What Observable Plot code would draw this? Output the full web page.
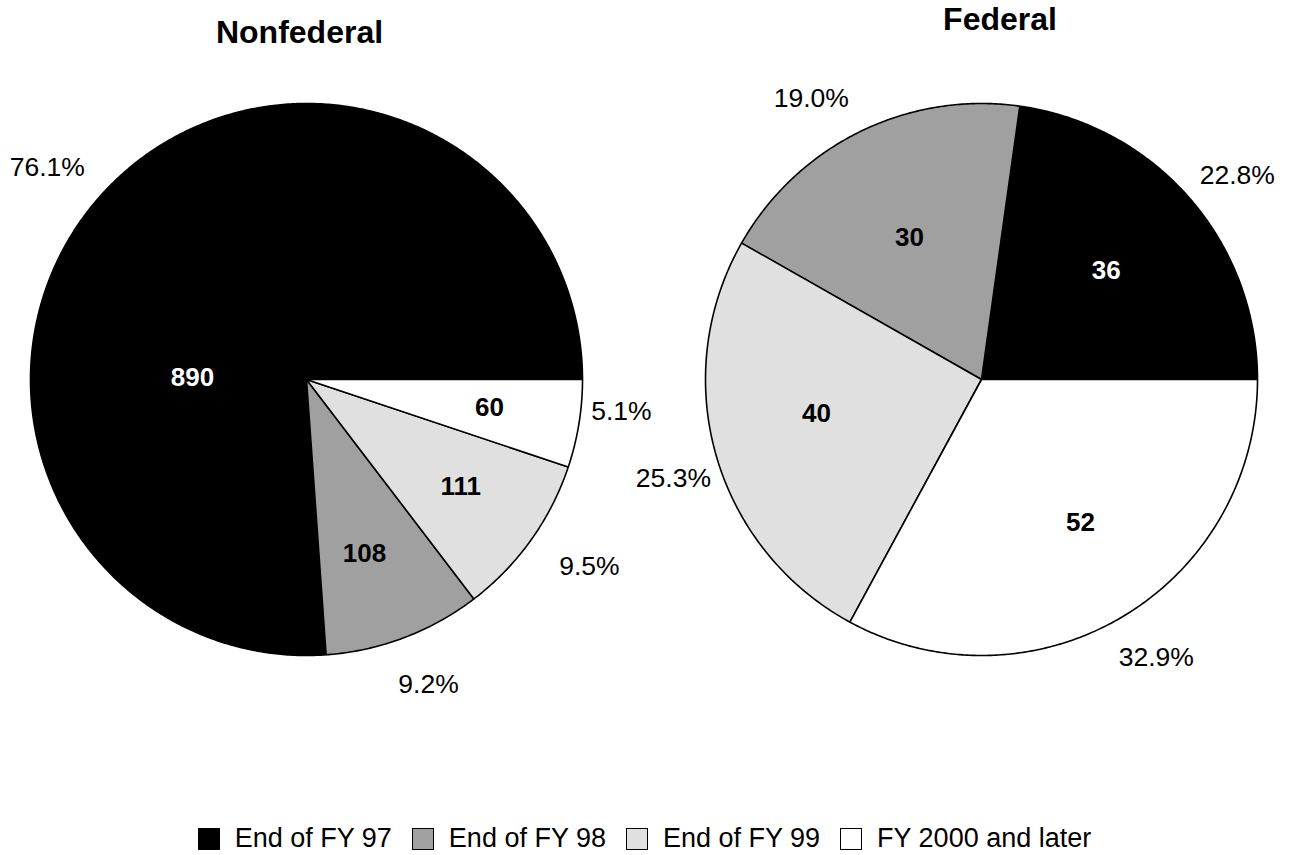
<!DOCTYPE html>
<html><head><meta charset="utf-8">
<script src="https://cdn.jsdelivr.net/npm/d3@7"></script>
<script src="https://cdn.jsdelivr.net/npm/@observablehq/plot@0.6"></script>
<style>
html,body{margin:0;padding:0;background:#fff;overflow:hidden}
#chart{width:1289px}
.legend{display:flex;justify-content:center;align-items:center;height:33px;font-family:"Liberation Sans",Arial,sans-serif;font-size:27px;color:#000;white-space:nowrap}
.legend .item{display:flex;align-items:center;margin:0 10px}
.legend .sw{width:20px;height:20px;border:1.5px solid #000;margin-right:15px;box-sizing:content-box;flex:none}
</style></head><body><div id="chart"></div>
<script>
// ---- data ----
const categories = ["End of FY 97", "End of FY 98", "End of FY 99", "FY 2000 and later"];
const pieNames = ["Nonfederal", "Federal"];
const nonfederalValues = [890, 108, 111, 60];
const federalValues = [36, 30, 40, 52];
const colors = ["#000000", "#a0a0a0", "#e0e0e0", "#ffffff"];

// ---- layout (pixels / polar placement tweaks) ----
const W = 1289, H = 822, R = 276;
const centersPx = [306, 981];
const centerYPx = 379;
const titlePx = [{x: 299, y: 31.8}, {x: 999.5, y: 18.8}];
// value label placement: [angle offset from slice middle (deg), radius as fraction of R]
const valueLabelPlace = [
  [[42, 0.413], [-2.3, 0.665], [0.8, 0.68], [0.5, 0.671]],
  [[0.1, 0.60], [0.7, 0.577], [-4.4, 0.61], [3.9, 0.63]]
];
// percent label placement: [angle offset (deg), radius fraction]
const pctLabelPlace = [
  [[3.7, 1.213], [1.1, 1.19], [2.1, 1.229], [3.4, 1.147]],
  [[-2.4, 1.186], [5.0, 1.19], [1.8, 1.172], [1.4, 1.19]]
];

const seriesByPie = [nonfederalValues, federalValues];
const cxUnit = centersPx.map(c => (c - centersPx[0]) / R);
const toUnitY = py => (centerYPx - py) / R;
const deg = Math.PI / 180;

const slices = [];
const polyPts = [];
seriesByPie.forEach((vals, p) => {
  const total = d3.sum(vals);
  let cum = 0;
  vals.forEach((v, i) => {
    const a0 = cum / total * 2 * Math.PI;
    cum += v;
    const a1 = cum / total * 2 * Math.PI;
    const id = pieNames[p] + "|" + categories[i];
    const mid = (a0 + a1) / 2;
    slices.push({pie: pieNames[p], p, category: categories[i], value: v, frac: v / total, a0, a1, mid, id, i});
    const n = Math.max(2, Math.ceil((a1 - a0) / (Math.PI / 360)));
    polyPts.push({id, category: categories[i], x: cxUnit[p], y: 0});
    for (let k = 0; k <= n; k++) {
      const a = a0 + (a1 - a0) * k / n;
      polyPts.push({id, category: categories[i], x: cxUnit[p] + Math.cos(a), y: Math.sin(a)});
    }
    polyPts.push({id, category: categories[i], x: cxUnit[p], y: 0});
  });
});

const valueLabels = slices.map(s => {
  const [da, r] = valueLabelPlace[s.p][s.i];
  const a = s.mid + da * deg;
  return {text: String(s.value), x: cxUnit[s.p] + r * Math.cos(a), y: r * Math.sin(a), fill: s.i === 0 ? "#fff" : "#000"};
});
const pctFmt = d3.format(".1%");
const pctLabels = slices.map(s => {
  const [da, r] = pctLabelPlace[s.p][s.i];
  const a = s.mid + da * deg;
  return {text: pctFmt(s.frac), x: cxUnit[s.p] + r * Math.cos(a), y: r * Math.sin(a)};
});
const titles = pieNames.map((name, p) => ({text: name, x: (titlePx[p].x - centersPx[0]) / R, y: toUnitY(titlePx[p].y)}));

const font = "'Liberation Sans', Arial, sans-serif";
const chart = Plot.plot({
  width: W, height: H, margin: 0,
  x: {domain: [-centersPx[0] / R, (W - centersPx[0]) / R], range: [0, W], axis: null},
  y: {domain: [toUnitY(H), toUnitY(0)], range: [H, 0], axis: null},
  color: {domain: categories, range: colors},
  style: {fontFamily: font, background: "#fff", color: "#000"},
  marks: [
    Plot.line(polyPts, {x: "x", y: "y", z: "id", fill: "category", stroke: "#000", strokeWidth: 1.6, curve: "linear", strokeLinejoin: "round"}),
    Plot.text(valueLabels, {x: "x", y: "y", text: "text", fill: d => d.fill, fontSize: 26, fontWeight: "bold", fontFamily: font}),
    Plot.text(pctLabels, {x: "x", y: "y", text: "text", fill: "#000", fontSize: 26.5, fontFamily: font}),
    Plot.text(titles, {x: "x", y: "y", text: "text", fill: "#000", fontSize: 32, fontWeight: "bold", fontFamily: font})
  ]
});
document.getElementById("chart").appendChild(chart);

const legend = document.createElement("div");
legend.className = "legend";
categories.forEach((c, i) => {
  const item = document.createElement("div");
  item.className = "item";
  const sw = document.createElement("span");
  sw.className = "sw";
  sw.style.background = colors[i];
  const t = document.createElement("span");
  t.textContent = c;
  item.appendChild(sw); item.appendChild(t);
  legend.appendChild(item);
});
document.getElementById("chart").appendChild(legend);
</script></body></html>
